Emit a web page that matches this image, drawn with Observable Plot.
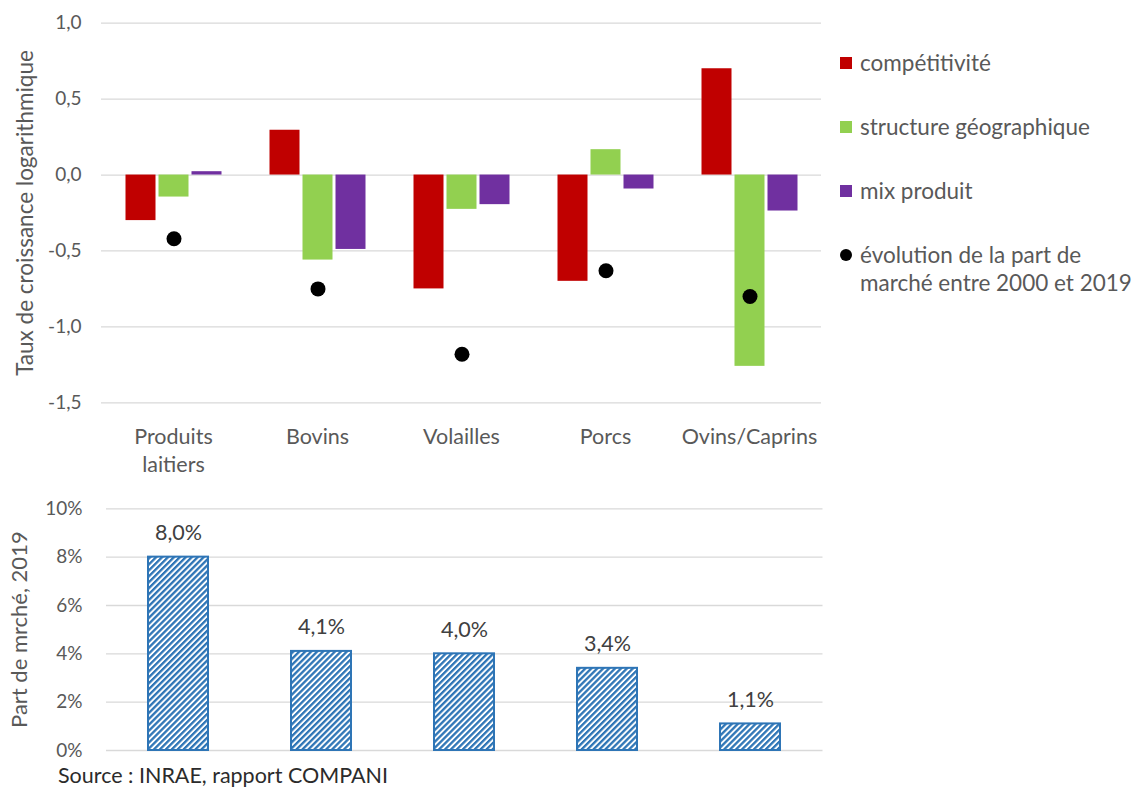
<!DOCTYPE html>
<html>
<head>
<meta charset="utf-8">
<script src="https://cdn.jsdelivr.net/npm/d3@7"></script>
<script src="https://cdn.jsdelivr.net/npm/@observablehq/plot@0.6"></script>
<style>
  body { margin: 0; background: #fff; font-family: Lato, "Open Sans", sans-serif; }
  #wrap { position: relative; width: 1135px; height: 789px; }
  #topChart { position: absolute; left: 0; top: 0; }
  #bottomChart { position: absolute; left: 0; top: 480px; }
  #legend { position: absolute; left: 840px; top: 49px; color: #595959; font-size: 22.5px; }
  .row { display: flex; align-items: flex-start; height: 64px; }
  .sw { width: 12px; height: 12px; margin-top: 8px; margin-right: 8px; flex: none; }
  .lbl { line-height: 28px; margin-top: 0px; }
  #source { position: absolute; left: 58px; top: 762px; font-size: 21.5px; color: #2b2b2b; }
</style>
</head>
<body>
<div id="wrap">
  <div id="topChart"></div>
  <div id="legend"></div>
  <div id="bottomChart"></div>
  <div id="source">Source : INRAE, rapport COMPANI</div>
</div>
<script>
// ---- data ----
const categories = ["Produits laitiers", "Bovins", "Volailles", "Porcs", "Ovins/Caprins"];
const series = ["compétitivité", "structure géographique", "mix produit"];
const seriesColors = ["#C00000", "#92D050", "#7030A0"];
const competitivite = [-0.30, 0.295, -0.75, -0.70, 0.70];
const structureGeo = [-0.145, -0.56, -0.226, 0.167, -1.26];
const mixProduit = [0.022, -0.49, -0.195, -0.092, -0.237];
const evolution = [-0.42, -0.75, -1.18, -0.63, -0.80];
const dotLabel = "évolution de la part de marché entre 2000 et 2019";
const part2019 = [8.0, 4.1, 4.0, 3.4, 1.1];
const topTicks = [-1.5, -1.0, -0.5, 0, 0.5, 1.0];
const bottomTicks = [0, 2, 4, 6, 8, 10];

// ---- derived tables ----
const seriesValues = [competitivite, structureGeo, mixProduit];
const topData = [];
categories.forEach((c, i) => series.forEach((s, j) => topData.push({cat: c, series: s, value: seriesValues[j][i]})));
const dotData = categories.map((c, i) => ({cat: c, series: series[1], value: evolution[i]}));
const bottomData = categories.map((c, i) => ({cat: c, value: part2019[i]}));
const comma = (d, n) => d.toFixed(n).replace(".", ",");

// ---- top chart ----
const topPlot = Plot.plot({
  width: 830,
  height: 480,
  marginLeft: 98.5,
  marginRight: 7,
  marginTop: 22.7,
  marginBottom: 77.7,
  style: {color: "#595959", fontFamily: "Lato, 'Open Sans', sans-serif", fontSize: "19px", background: "white"},
  fx: {domain: categories, padding: 0},
  x: {domain: series, paddingInner: 0.1, paddingOuter: 0.683, axis: null},
  y: {domain: [-1.5, 1.0]},
  color: {domain: series, range: seriesColors},
  marks: [
    Plot.gridY(topTicks, {stroke: "#D9D9D9", strokeOpacity: 1, strokeWidth: 1.3}),
    Plot.axisY(topTicks, {tickSize: 0, tickPadding: 20, tickFormat: d => comma(d, 1), fontSize: 19, label: null}),
    Plot.axisY({ticks: [], tickSize: 0, label: "Taux de croissance logarithmique", labelAnchor: "center", labelOffset: 84, labelArrow: "none", fontSize: 22.5}),
    Plot.axisFx({anchor: "bottom", tickSize: 0, tickPadding: 21, tickFormat: d => d.replace(" ", "\n"), lineHeight: 1.3, label: null, fontSize: 21.5}),
    Plot.barY(topData, {fx: "cat", x: "series", y: "value", fill: "series"}),
    Plot.dot(dotData, {fx: "cat", x: "series", y: "value", r: 7.5, fill: "black"})
  ]
});
document.getElementById("topChart").appendChild(topPlot);

// ---- legend ----
const legend = document.getElementById("legend");
series.forEach((s, j) => {
  const row = document.createElement("div");
  row.className = "row";
  row.innerHTML = `<div class="sw" style="background:${seriesColors[j]}"></div><div class="lbl">${s}</div>`;
  legend.appendChild(row);
});
{
  const row = document.createElement("div");
  row.className = "row";
  row.innerHTML = `<div class="sw" style="background:#000;border-radius:50%"></div><div class="lbl" style="width:275px">${dotLabel}</div>`;
  legend.appendChild(row);
}

// ---- bottom chart ----
const bottomPlot = Plot.plot({
  width: 830,
  height: 282,
  marginLeft: 106,
  marginRight: 7.5,
  marginTop: 28.3,
  marginBottom: 12,
  style: {color: "#595959", fontFamily: "Lato, 'Open Sans', sans-serif", fontSize: "19px", background: "white"},
  x: {domain: categories, paddingInner: 0.58, paddingOuter: 0.29, axis: null},
  y: {domain: [0, 10]},
  marks: [
    Plot.gridY(bottomTicks, {stroke: "#D9D9D9", strokeOpacity: 1, strokeWidth: 1.3}),
    Plot.axisY(bottomTicks, {tickSize: 0, tickPadding: 24, tickFormat: d => d + "%", fontSize: 19, label: null}),
    Plot.axisY({ticks: [], tickSize: 0, label: "Part de mrché, 2019", labelAnchor: "center", labelOffset: 95, labelArrow: "none", fontSize: 22}),
    Plot.barY(bottomData, {x: "cat", y: "value", fill: "url(#hatch)", stroke: "#2E75B6", strokeWidth: 2}),
    Plot.text(bottomData, {x: "cat", y: "value", text: d => comma(d.value, 1) + "%", dy: -24, fill: "#404040", fontSize: 21.5})
  ]
});
const ns = "http://www.w3.org/2000/svg";
const defs = document.createElementNS(ns, "defs");
defs.innerHTML = `<pattern id="hatch" patternUnits="userSpaceOnUse" width="4.2" height="4.2" patternTransform="rotate(45)">
  <rect x="0" y="0" width="4.2" height="4.2" fill="#ffffff"></rect>
  <rect x="0" y="0" width="2.3" height="4.2" fill="#2E75B6"></rect>
</pattern>`;
bottomPlot.insertBefore(defs, bottomPlot.firstChild);
document.getElementById("bottomChart").appendChild(bottomPlot);
</script>
</body>
</html>
